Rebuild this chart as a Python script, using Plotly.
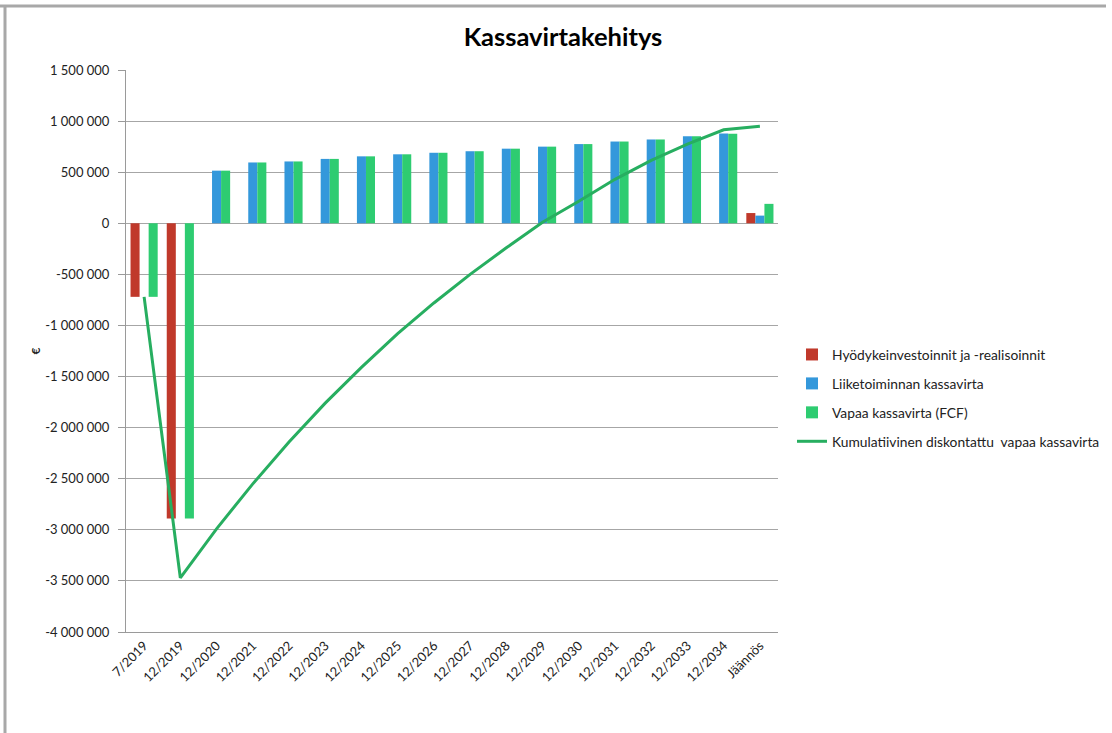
import plotly.graph_objects as go

categories = ["7/2019", "12/2019", "12/2020", "12/2021", "12/2022", "12/2023", "12/2024",
              "12/2025", "12/2026", "12/2027", "12/2028", "12/2029", "12/2030", "12/2031",
              "12/2032", "12/2033", "12/2034", "Jäännös"]

investoinnit = [-720000, -2890000, 0, 0, 0, 0, 0, 0, 0, 0, 0, 0, 0, 0, 0, 0, 0, 100000]
liiketoiminta = [0, 0, 515000, 595000, 605000, 630000, 655000, 675000, 690000, 705000,
                 730000, 750000, 775000, 800000, 820000, 852000, 878000, 75000]
vapaa = [-720000, -2890000, 515000, 595000, 605000, 630000, 655000, 675000, 690000, 705000,
         730000, 750000, 775000, 800000, 820000, 852000, 875000, 190000]
kumulatiivinen = [-720000, -3470000, -2990000, -2550000, -2140000, -1760000, -1410000,
                  -1080000, -780000, -500000, -240000, 10000, 215000, 430000, 615000,
                  775000, 915000, 950000]

y_tickvals = [1500000, 1000000, 500000, 0, -500000, -1000000, -1500000, -2000000,
              -2500000, -3000000, -3500000, -4000000]
y_ticktext = ["1 500 000", "1 000 000", "500 000", "0", "-500 000", "-1 000 000",
              "-1 500 000", "-2 000 000", "-2 500 000", "-3 000 000", "-3 500 000",
              "-4 000 000"]

FONT = "Lato"

fig = go.Figure()
fig.add_trace(go.Bar(x=categories, y=investoinnit, name="Hyödykeinvestoinnit ja -realisoinnit",
                     legendgroup="a", marker=dict(color="#C0392B", line=dict(width=0))))
fig.add_trace(go.Bar(x=categories, y=liiketoiminta, name="Liiketoiminnan kassavirta",
                     legendgroup="b", marker=dict(color="#3498DB", line=dict(width=0))))
fig.add_trace(go.Bar(x=categories, y=vapaa, name="Vapaa kassavirta (FCF)",
                     legendgroup="c", marker=dict(color="#2ECC71", line=dict(width=0))))
fig.add_trace(go.Scatter(x=categories, y=kumulatiivinen, mode="lines",
                         name="Kumulatiivinen diskontattu  vapaa kassavirta",
                         legendgroup="d", line=dict(color="#27AE60", width=3)))

W, H = 1112, 733
L, R, T, B = 126, 778, 70, 632


def px(x):
    return (x - L) / (R - L)


def py(y):
    return (B - y) / (B - T)


shapes = [
    dict(type="line", xref="paper", yref="paper", x0=px(0), x1=px(1106), y0=py(6), y1=py(6),
         line=dict(color="#A8A8A8", width=3)),
    dict(type="line", xref="paper", yref="paper", x0=px(5), x1=px(5), y0=py(6), y1=py(740),
         line=dict(color="#A8A8A8", width=3)),
]

fig.update_layout(
    width=W, height=H,
    margin=dict(l=L, r=W - R, t=T, b=H - B, autoexpand=False),
    paper_bgcolor="white", plot_bgcolor="white",
    barmode="group", bargap=0.25, bargroupgap=0,
    font=dict(family=FONT, size=13, color="#222222"),
    title=dict(text="<b>Kassavirtakehitys</b>", x=563 / W, xanchor="center",
               y=1 - 37 / H, yanchor="middle",
               font=dict(family=FONT, size=25.5, color="black")),
    showlegend=True,
    legend=dict(x=px(792), xanchor="left", y=py(339), yanchor="top",
                font=dict(family=FONT, size=13.8, color="#222222"),
                tracegroupgap=8, itemwidth=30, bgcolor="rgba(0,0,0,0)"),
    shapes=shapes,
    xaxis=dict(type="category", showgrid=False, showline=True, linecolor="#9A9A9A",
               linewidth=1, tickangle=-45, ticks="", tickfont=dict(family=FONT, size=13)),
    yaxis=dict(range=[-4000000, 1500000], tickvals=y_tickvals, ticktext=y_ticktext,
               showgrid=True, gridcolor="#A6A6A6", gridwidth=1, zeroline=True,
               zerolinecolor="#A6A6A6", zerolinewidth=1, showline=True,
               linecolor="#9A9A9A", linewidth=1, ticks="outside", ticklen=7,
               tickcolor="#9A9A9A", tickfont=dict(family=FONT, size=13),
               ticklabelstandoff=6,
               title=dict(text="<b>€</b>", font=dict(family=FONT, size=12), standoff=1)),
)

fig.write_html("out.html", config={"displayModeBar": False},
               post_script="document.body.style.margin='0';")
